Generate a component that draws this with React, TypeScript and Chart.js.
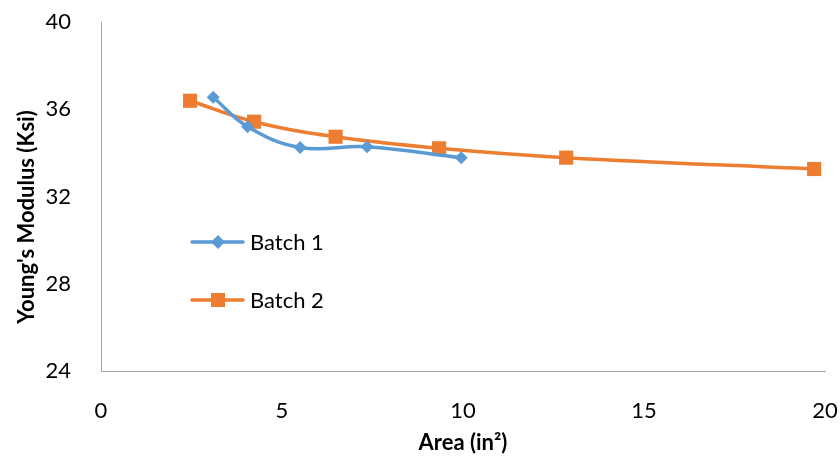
import React, { useEffect, useRef } from "react";
import { Chart, registerables } from "chart.js";

Chart.register(...registerables);

// Batch 1 measurements
const batch1Area = [3.1, 4.05, 5.5, 7.35, 9.95];
const batch1Modulus = [36.55, 35.2, 34.25, 34.28, 33.78];

// Batch 2 measurements
const batch2Area = [2.46, 4.23, 6.48, 9.34, 12.85, 19.7];
const batch2Modulus = [36.39, 35.43, 34.74, 34.21, 33.78, 33.26];

const seriesNames = ["Batch 1", "Batch 2"];
const seriesColors = ["#5B9BD5", "#ED7D31"];
const xTitle = "Area (in²)";
const yTitle = "Young's Modulus (Ksi)";

const FONT = "Lato, 'Open Sans', sans-serif";

const toPoints = (xs: number[], ys: number[]) => xs.map((x, i) => ({ x, y: ys[i] }));

// Legend and axis titles painted on the canvas
const overlayPlugin = {
  id: "overlay",
  afterDraw(chart: any) {
    const { ctx, chartArea } = chart;
    ctx.save();
    ctx.fillStyle = "#000";
    ctx.font = `bold 22px ${FONT}`;
    ctx.textAlign = "center";
    ctx.textBaseline = "middle";
    ctx.fillText(xTitle, 463, 443);
    ctx.translate(27, 217);
    ctx.rotate(-Math.PI / 2);
    ctx.fillText(yTitle, 0, 0);
    ctx.restore();

    const rows = [242, 300];
    rows.forEach((y, i) => {
      ctx.save();
      ctx.strokeStyle = seriesColors[i];
      ctx.lineWidth = 3.5;
      ctx.lineCap = "round";
      ctx.beginPath();
      ctx.moveTo(192, y);
      ctx.lineTo(243, y);
      ctx.stroke();
      ctx.fillStyle = seriesColors[i];
      if (i === 0) {
        ctx.beginPath();
        ctx.moveTo(218, y - 7);
        ctx.lineTo(225, y);
        ctx.lineTo(218, y + 7);
        ctx.lineTo(211, y);
        ctx.closePath();
        ctx.fill();
      } else {
        ctx.fillRect(211, y - 7, 14, 14);
      }
      ctx.fillStyle = "#000";
      ctx.font = `22px ${FONT}`;
      ctx.textAlign = "left";
      ctx.textBaseline = "middle";
      ctx.fillText(seriesNames[i], 250, y + 1);
      ctx.restore();
    });
  },
};

export default function App() {
  const canvasRef = useRef<HTMLCanvasElement>(null);

  useEffect(() => {
    const canvas = canvasRef.current;
    if (!canvas) return;
    const chart = new Chart(canvas, {
      type: "line",
      data: {
        datasets: [
          {
            label: seriesNames[0],
            data: toPoints(batch1Area, batch1Modulus),
            borderColor: seriesColors[0],
            backgroundColor: seriesColors[0],
            borderWidth: 3.5,
            pointStyle: "rectRot",
            pointRadius: 6.5,
            pointBorderWidth: 0,
            tension: 0.4,
          },
          {
            label: seriesNames[1],
            data: toPoints(batch2Area, batch2Modulus),
            borderColor: seriesColors[1],
            backgroundColor: seriesColors[1],
            borderWidth: 3.5,
            pointStyle: "rect",
            pointRadius: 10,
            pointBorderWidth: 0,
            tension: 0.4,
          },
        ],
      },
      options: {
        responsive: false,
        animation: false,
        layout: { padding: { top: 22, right: 15, left: 0, bottom: 0 } },
        plugins: {
          legend: { display: false },
          tooltip: { enabled: false },
        },
        scales: {
          x: {
            type: "linear",
            min: 0,
            max: 20,
            grid: { display: false },
            border: { display: true, color: "#A6A6A6", width: 1 },
            ticks: {
              stepSize: 5,
              padding: 19,
              color: "#000",
              font: { family: FONT, size: 22 },
            },
            afterFit(scale: any) {
              scale.height = 91;
              scale.paddingLeft = 0;
              scale.paddingRight = 0;
            },
          },
          y: {
            min: 24,
            max: 40,
            grid: { display: false },
            border: { display: true, color: "#A6A6A6", width: 1 },
            ticks: {
              stepSize: 4,
              padding: 22,
              color: "#000",
              font: { family: FONT, size: 22 },
            },
            afterFit(scale: any) {
              scale.width = 101;
              scale.paddingTop = 0;
              scale.paddingBottom = 0;
            },
          },
        },
      },
      plugins: [overlayPlugin],
    });
    return () => chart.destroy();
  }, []);

  return (
    <div style={{ position: "fixed", left: 0, top: 0, width: 840, height: 462, background: "#fff" }}>
      <canvas ref={canvasRef} width={840} height={462} style={{ width: 840, height: 462 }} />
    </div>
  );
}
